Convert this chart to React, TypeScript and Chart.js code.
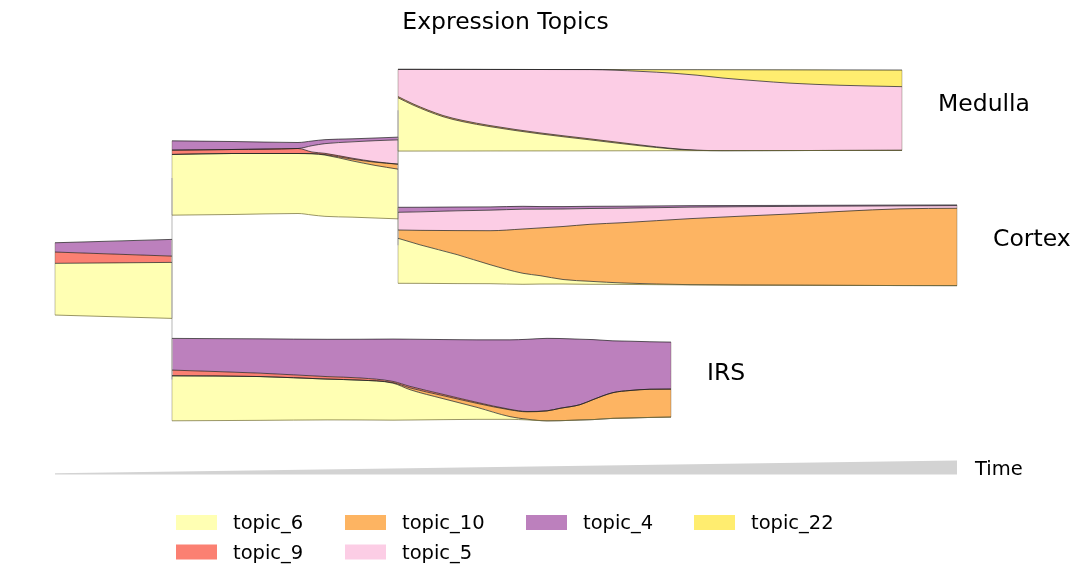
import React, { useEffect, useRef } from 'react';
import { Chart, registerables } from 'chart.js';

Chart.register(...registerables);

// ---------------- DATA ----------------
// stacking order (bottom -> top)
const stackTopics = ['topic_6', 'topic_10', 'topic_9', 'topic_5', 'topic_4', 'topic_22'];
// legend order (column-major)
const legendTopics = ['topic_6', 'topic_9', 'topic_10', 'topic_5', 'topic_4', 'topic_22'];
const topicColors: Record<string, string> = {
  topic_6: '#FFFFB3',
  topic_9: '#FB8072',
  topic_10: '#FDB462',
  topic_5: '#FCCDE5',
  topic_4: '#BC80BD',
  topic_22: '#FFED6F',
};

const chartTitle = 'Expression Topics';
const axisLabel = 'Time';

// Root branch
const rootTime = [0, 0.1297];
const rootTopic6 = [51.7, 56];
const rootTopic9 = [11.3, 6.3];
const rootTopic4 = [9.3, 16.7];

// Intermediate branch (towards Medulla / Cortex)
const midTime = [0.1297, 0.1962, 0.2694, 0.2849, 0.2993, 0.3293, 0.3548, 0.3803];
const midTopic6 = [60.7, 61, 60, 61.3, 61.3, 56.3, 52.6, 49.7];
const midTopic10 = [0, 0, 0, 0, 0.5, 1.7, 3.2, 5];
const midTopic9 = [4.3, 4, 5, 1.7, 1.2, 1, 0.5, 0];
const midTopic5 = [0, 0, 0, 6.3, 9.7, 16.3, 21, 24.3];
const midTopic4 = [9.3, 8, 6, 4.7, 4, 3, 2.7, 2.7];

// Medulla
const medullaTime = [0.3803, 0.3969, 0.4302, 0.4523, 0.4823, 0.5377, 0.5931, 0.6486, 0.6851, 0.7118, 0.7406, 0.7783, 0.8149, 0.8703, 0.939];
const medullaTopic6 = [53.3, 46, 34.3, 29.3, 24.3, 17, 11, 5, 1.7, 0.3, 0, 0, 0, 0, 0];
const medullaTopic10 = [1.2, 1.2, 1.2, 1.2, 1.1, 1, 1, 0.8, 0.5, 0.2, 0, 0, 0, 0, 0];
const medullaTopic5 = [27.2, 34.5, 46.1, 51.1, 56.1, 63.4, 69.3, 73.6, 75.3, 75, 72.6, 69.8, 67.4, 65.2, 63.7];
const medullaTopic22 = [0, 0, 0, 0, 0, 0, 0, 1.7, 3.5, 5.5, 8.3, 11, 13.3, 15.3, 16.6];

// Cortex
const cortexTime = [0.3803, 0.4047, 0.4457, 0.4823, 0.5188, 0.5377, 0.5632, 0.5931, 0.6297, 0.704, 0.8149, 0.9368, 1.0];
const cortexTopic6 = [45, 38.5, 29, 19, 11, 8.4, 4.5, 3, 1.4, 0.3, 0, 0, 0];
const cortexTopic10 = [8.3, 14.5, 24, 34, 44.3, 47.7, 53, 57, 60.3, 66, 71.2, 76.7, 77.4];
const cortexTopic5 = [17.7, 18.5, 19.8, 20.5, 19.8, 18.8, 17.5, 15.8, 14.5, 11.5, 7.6, 3, 2.6];
const cortexTopic4 = [5, 4.6, 3.8, 3.3, 2.9, 2.6, 2.4, 2.2, 2, 1.5, 1, 0.8, 0.7];

// IRS
const irsTime = [0.1297, 0.2273, 0.3016, 0.3381, 0.3747, 0.3936, 0.4302, 0.4678, 0.5044, 0.5233, 0.5455, 0.5599, 0.582, 0.5965, 0.6186, 0.6375, 0.6596, 0.6829];
const irsTopic6 = [45, 43.8, 40.8, 39.8, 37, 30.3, 21, 12, 2.7, 0.7, 0, 0, 0, 0, 0, 0, 0, 0];
const irsTopic10 = [0, 0, 0, 0, 0.5, 1.8, 3, 4, 6.8, 7.4, 10, 12.4, 15.3, 20, 25.7, 27.5, 28.2, 28];
const irsTopic9 = [5.7, 3.4, 2.5, 2.2, 1.2, 1.5, 1.3, 1, 0.5, 0.3, 0, 0, 0, 0, 0, 0, 0, 0];
const irsTopic4 = [31.7, 34.3, 37.3, 38.7, 42.4, 47.2, 54.8, 62.5, 69.5, 72.2, 72.5, 69.8, 65.5, 60, 51.8, 49.3, 47.5, 47];

// ---------------- LAYOUT ----------------
type Branch = {
  label: string;
  lane: number;
  time: number[];
  layers: Record<string, number[]>;
};

const branches: Branch[] = [
  { label: '', lane: 278.9, time: rootTime, layers: { topic_6: rootTopic6, topic_9: rootTopic9, topic_4: rootTopic4 } },
  { label: '', lane: 178, time: midTime, layers: { topic_6: midTopic6, topic_10: midTopic10, topic_9: midTopic9, topic_5: midTopic5, topic_4: midTopic4 } },
  { label: 'Medulla', lane: 110.2, time: medullaTime, layers: { topic_6: medullaTopic6, topic_10: medullaTopic10, topic_5: medullaTopic5, topic_22: medullaTopic22 } },
  { label: 'Cortex', lane: 245.3, time: cortexTime, layers: { topic_6: cortexTopic6, topic_10: cortexTopic10, topic_5: cortexTopic5, topic_4: cortexTopic4 } },
  { label: 'IRS', lane: 379.6, time: irsTime, layers: { topic_6: irsTopic6, topic_10: irsTopic10, topic_9: irsTopic9, topic_4: irsTopic4 } },
];

// connectors: [time, laneA, laneB]
const connectors: [number, number, number][] = [
  [0.1297, 178, 379.6],
  [0.3803, 110.2, 245.3],
];

// legend grid: [column, row] per legend entry (4 columns, filled column-first)
const legendCells: [number, number][] = [[0, 0], [0, 1], [1, 0], [1, 1], [2, 0], [3, 0]];

const FONT = '"DejaVu Sans", "Liberation Sans", sans-serif';

function buildDatasets() {
  const datasets: any[] = [];
  const extents: { time: number[]; top: number[]; bottom: number[]; label: string; lane: number }[] = [];
  for (const b of branches) {
    const n = b.time.length;
    const total = b.time.map((_, i) =>
      stackTopics.reduce((s, k) => s + (b.layers[k] ? b.layers[k][i] : 0), 0)
    );
    const bottom = total.map((tt) => b.lane + tt / 2);
    const top = total.map((tt) => b.lane - tt / 2);
    extents.push({ time: b.time, top, bottom, label: b.label, lane: b.lane });
    datasets.push({
      data: b.time.map((t, i) => ({ x: t, y: bottom[i] })),
      borderColor: 'rgba(120,115,60,0.75)',
      borderWidth: 1,
      backgroundColor: 'transparent',
      fill: false,
      pointRadius: 0,
      cubicInterpolationMode: 'monotone',
    });
    const cum = new Array(n).fill(0);
    for (const k of stackTopics) {
      const vals = b.layers[k] || new Array(n).fill(0);
      for (let i = 0; i < n; i++) cum[i] += vals[i];
      const hasAny = vals.some((v) => v > 0);
      datasets.push({
        label: k,
        data: b.time.map((t, i) => ({ x: t, y: bottom[i] - cum[i] })),
        backgroundColor: topicColors[k],
        borderColor: hasAny ? 'rgba(30,30,30,0.8)' : 'rgba(0,0,0,0)',
        borderWidth: 0.9,
        fill: '-1',
        pointRadius: 0,
        cubicInterpolationMode: 'monotone',
      });
    }
  }
  return { datasets, extents };
}

export default function App() {
  const ref = useRef<HTMLCanvasElement | null>(null);

  useEffect(() => {
    document.body.style.margin = '0';
    const canvas = ref.current;
    if (!canvas) return;
    const { datasets, extents } = buildDatasets();

    const decor = {
      id: 'decor',
      beforeDatasetsDraw(chart: any) {
        const ctx = chart.ctx;
        const xs = chart.scales.x;
        const ys = chart.scales.y;
        ctx.save();
        ctx.strokeStyle = '#cfcfcf';
        ctx.lineWidth = 1.5;
        for (const [t, a, b] of connectors) {
          const x = xs.getPixelForValue(t);
          ctx.beginPath();
          ctx.moveTo(x, ys.getPixelForValue(a));
          ctx.lineTo(x, ys.getPixelForValue(b));
          ctx.stroke();
        }
        ctx.restore();
      },
      afterDatasetsDraw(chart: any) {
        const ctx = chart.ctx;
        const xs = chart.scales.x;
        const ys = chart.scales.y;
        ctx.save();
        // vertical branch edges
        ctx.strokeStyle = 'rgba(90,80,60,0.35)';
        ctx.lineWidth = 1;
        for (const e of extents) {
          const last = e.time.length - 1;
          for (const i of [0, last]) {
            const x = xs.getPixelForValue(e.time[i]);
            ctx.beginPath();
            ctx.moveTo(x, ys.getPixelForValue(e.top[i]));
            ctx.lineTo(x, ys.getPixelForValue(e.bottom[i]));
            ctx.stroke();
          }
        }
        // branch labels
        ctx.fillStyle = '#000';
        ctx.font = `23.5px ${FONT}`;
        ctx.textBaseline = 'middle';
        ctx.textAlign = 'left';
        for (const e of extents) {
          if (!e.label) continue;
          const x = xs.getPixelForValue(e.time[e.time.length - 1]) + 36;
          ctx.fillText(e.label, x, ys.getPixelForValue(e.lane) - 5.5);
        }
        // title
        ctx.textAlign = 'center';
        ctx.fillText(chartTitle, 505.5, 22.5);
        // time wedge
        const x0 = xs.getPixelForValue(0);
        const x1 = xs.getPixelForValue(1);
        ctx.fillStyle = '#d3d3d3';
        ctx.beginPath();
        ctx.moveTo(x0, 473.3);
        ctx.lineTo(x1, 460.5);
        ctx.lineTo(x1, 474.5);
        ctx.lineTo(x0, 474.5);
        ctx.closePath();
        ctx.fill();
        ctx.fillStyle = '#000';
        ctx.textAlign = 'left';
        ctx.font = `19.5px ${FONT}`;
        ctx.fillText(axisLabel, x1 + 18, 469.5);
        // legend
        const colX = [176, 345, 526, 694];
        const rowY = [522.5, 552];
        legendTopics.forEach((k, i) => {
          const [c, r] = legendCells[i];
          ctx.fillStyle = topicColors[k];
          ctx.fillRect(colX[c], rowY[r] - 7.5, 41, 15);
          ctx.fillStyle = '#000';
          ctx.fillText(k, colX[c] + 57, rowY[r] + 1.5);
        });
        ctx.restore();
      },
    };

    const chart = new Chart(canvas, {
      type: 'line',
      data: { datasets },
      options: {
        animation: false,
        responsive: false,
        devicePixelRatio: 1,
        layout: { padding: { left: 55, right: 125, top: 0, bottom: 0 } },
        scales: {
          x: { type: 'linear', min: 0, max: 1, display: false },
          y: { type: 'linear', min: 0, max: 582, reverse: true, display: false },
        },
        plugins: {
          legend: { display: false },
          tooltip: { enabled: false },
          filler: { propagate: false, drawTime: 'beforeDatasetsDraw' },
        } as any,
        elements: { point: { radius: 0 }, line: { tension: 0 } },
      },
      plugins: [decor],
    } as any);

    return () => chart.destroy();
  }, []);

  return (
    <canvas ref={ref} width={1082} height={582} style={{ display: 'block', width: 1082, height: 582 }} />
  );
}
